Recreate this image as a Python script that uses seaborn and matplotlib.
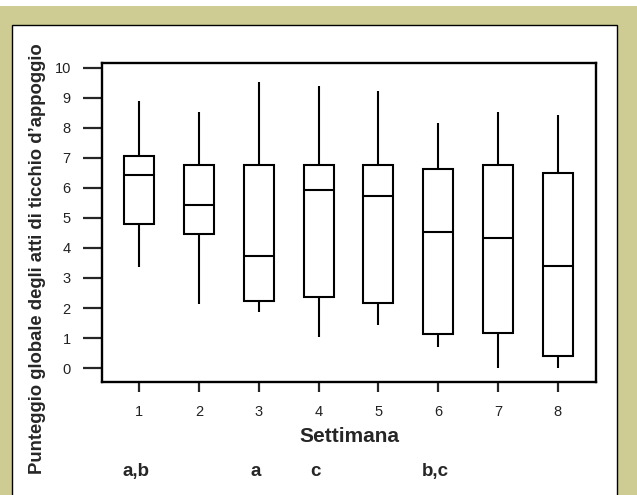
import matplotlib
matplotlib.use("Agg")
import matplotlib.pyplot as plt
import matplotlib.transforms as mtransforms
from matplotlib.patches import Rectangle
import numpy as np
import pandas as pd
import seaborn as sns

# Valori (min, Q1, mediana, Q3, max per ogni settimana)
settimane = ["1", "2", "3", "4", "5", "6", "7", "8"]
minimo = [3.38, 2.14, 1.88, 1.04, 1.43, 0.71, 0.0, 0.0]
q1 = [4.79, 4.47, 2.25, 2.37, 2.17, 1.13, 1.18, 0.41]
mediana = [6.42, 5.44, 3.73, 5.91, 5.71, 4.52, 4.33, 3.41]
q3 = [7.07, 6.75, 6.75, 6.75, 6.75, 6.63, 6.75, 6.48]
massimo = [8.87, 8.53, 9.51, 9.39, 9.23, 8.15, 8.53, 8.41]
lettere = ["a,b", "", "a", "c", "", "b,c", "", ""]

# Con 5 valori per settimana i quartili coincidono con q1, mediana e q3
tabella = pd.DataFrame(
    {
        "settimana": settimane,
        "minimo": minimo,
        "q1": q1,
        "mediana": mediana,
        "q3": q3,
        "massimo": massimo,
    }
)
dati = tabella.melt(id_vars="settimana", value_name="punteggio")

sns.set_style("ticks")
plt.rcParams["font.family"] = ["Liberation Sans", "DejaVu Sans"]

fig = plt.figure(figsize=(6.37, 4.95), dpi=100)
fig.patch.set_facecolor("white")
W, H = 637, 495
# Cornice color kaki e pannello bianco
fig.patches.append(
    Rectangle((0, 0), 1, 1 - 6 / H, transform=fig.transFigure,
              facecolor="#cecc92", edgecolor="none", zorder=-2)
)
fig.patches.append(
    Rectangle((12 / W, -0.01), (617 - 12) / W, 1 - 25 / H + 0.01,
              transform=fig.transFigure, facecolor="white",
              edgecolor="black", linewidth=1.0, zorder=-1)
)

ax = fig.add_axes([102 / W, 1 - 381.7 / H, (596 - 102) / W, (381.7 - 63.3) / H])
ax.set_facecolor("white")

sns.boxplot(
    data=dati,
    x="settimana",
    y="punteggio",
    order=settimane,
    whis=(0, 100),
    width=0.5,
    color="white",
    linecolor="black",
    linewidth=1.5,
    showcaps=False,
    fliersize=0,
    ax=ax,
)

ax.set_xlim(-0.625, 7.64)
ax.set_ylim(-0.45, 10.14)
ax.set_yticks(range(0, 11))
for lato in ["top", "right", "bottom", "left"]:
    ax.spines[lato].set_visible(True)
    ax.spines[lato].set_linewidth(1.7)
    ax.spines[lato].set_color("black")

ax.tick_params(axis="y", direction="out", length=13.5, width=1.6, pad=9,
               labelsize=10.5, labelcolor="#222222")
ax.tick_params(axis="x", direction="out", length=7, width=1.6, pad=10,
               labelsize=10.5, labelcolor="#222222")

ax.set_xlabel("Settimana", fontsize=15, fontweight="bold")
ax.xaxis.set_label_coords(0.5, -0.142)
ax.set_ylabel("")

fig.text(38 / W, 1 - 259 / H, "Punteggio globale degli atti di ticchio d\u2019appoggio",
         rotation=90, ha="center", va="center", fontsize=13.3, fontweight="bold")

trans = mtransforms.blended_transform_factory(ax.transData, ax.transAxes)
for i, testo in enumerate(lettere):
    if testo:
        ax.text(i - 0.05, -0.283, testo, transform=trans, ha="center",
                va="center", fontsize=13.5, fontweight="bold")

fig.savefig("out.png", dpi=100, facecolor=fig.get_facecolor())
